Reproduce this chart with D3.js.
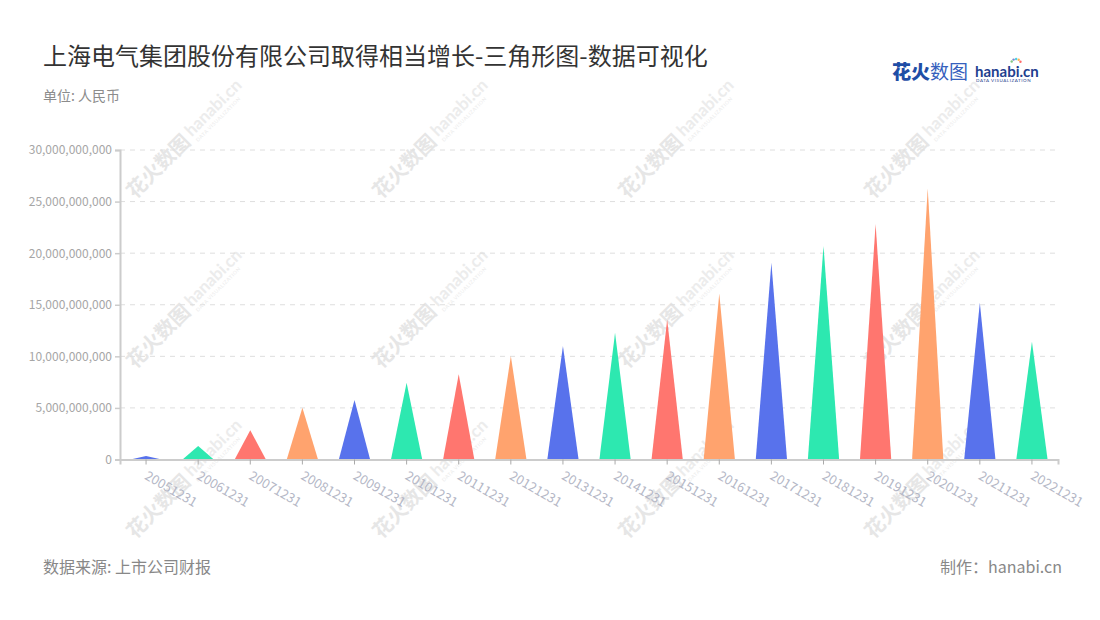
<!DOCTYPE html>
<html><head><meta charset="utf-8">
<script src="https://cdn.jsdelivr.net/npm/d3@7"></script>
<style>
html,body{margin:0;padding:0;background:#fff;}
svg{display:block;font-family:"Noto Sans CJK SC","Noto Sans",sans-serif;}
</style></head>
<body><svg id="c" width="1100" height="620"></svg>
<script>
const categories = ["20051231","20061231","20071231","20081231","20091231","20101231","20111231","20121231","20131231","20141231","20151231","20161231","20171231","20181231","20191231","20201231","20211231","20221231"];
const values = [0.34e9,1.31e9,2.83e9,5.02e9,5.77e9,7.44e9,8.26e9,10.03e9,11.0e9,12.29e9,13.58e9,16.1e9,19.07e9,20.69e9,22.82e9,26.28e9,15.19e9,11.41e9];
const yTicks = [0,5e9,10e9,15e9,20e9,25e9,30e9];
const palette = ["#5872ec","#2de8b0","#ff766f","#ffa36e"];

(function(){
const svg = d3.select("#c");
const pl = 120, pr = 1058, pt = 150, pb = 459.5;

// watermark
const wm = svg.append("g").attr("pointer-events","none");
for (let cx = 186; cx < 1150; cx += 246) {
  for (let cy = 140; cy < 650; cy += 170) {
    const g = wm.append("g").attr("transform", `translate(${cx},${cy}) rotate(-45)`);
    g.append("text").attr("x",-78).attr("y",6).attr("font-size",20).attr("font-weight",700).attr("fill","#e6e6e6").text("花火数图");
    g.append("text").attr("x",6).attr("y",2).attr("font-size",17).attr("font-weight",700).attr("fill","#ececec").attr("font-family","Lato, sans-serif").text("hanabi.cn");
    g.append("text").attr("x",7).attr("y",10).attr("font-size",5).attr("fill","#ececec").attr("font-family","Lato, sans-serif").attr("letter-spacing",0.6).text("DATA VISUALIZATION");
  }
}

const x = d3.scaleBand().domain(categories).range([pl, pr]).padding(0);
const y = d3.scaleLinear().domain([0, 30e9]).range([pb, pt]);

// grid
svg.append("g").selectAll("line").data(yTicks.slice(1)).join("line")
  .attr("x1", pl).attr("x2", pr)
  .attr("y1", d => y(d)).attr("y2", d => y(d))
  .attr("stroke", "#dedede").attr("stroke-dasharray", "5,5").attr("stroke-width", 1);

// y axis
const yAxis = svg.append("g").attr("transform", `translate(${pl},0)`)
  .call(d3.axisLeft(y).tickValues(yTicks).tickFormat(d3.format(",")).tickSizeOuter(0).tickSize(5).tickPadding(3));
yAxis.select(".domain").attr("stroke", "#cccccc").attr("stroke-width", 2);
yAxis.selectAll(".tick line").attr("stroke", "#cccccc").attr("stroke-width", 1.5);
yAxis.selectAll(".tick text").attr("fill", "#a6a6a6").attr("font-size", 12)
  .attr("font-family", '"Noto Sans CJK SC","Noto Sans",sans-serif');

// triangles
const bw = x.bandwidth() * 0.6;
svg.append("g").selectAll("path").data(categories).join("path")
  .attr("d", (c, i) => {
    const cx = x(c) + x.bandwidth() / 2;
    return `M${cx - bw/2},${y(0)} L${cx},${y(values[i])} L${cx + bw/2},${y(0)} Z`;
  })
  .attr("fill", (c, i) => palette[i % 4]);

// x axis
const xAxis = svg.append("g").attr("transform", `translate(0,${pb})`)
  .call(d3.axisBottom(x).tickSizeOuter(0).tickSize(5).tickPadding(6));
xAxis.select(".domain").attr("stroke", "#cccccc").attr("stroke-width", 2);
xAxis.selectAll(".tick line").attr("stroke", "#aaaaaa").attr("stroke-width", 1);
xAxis.selectAll(".tick text")
  .attr("fill", "#b4b7c6").attr("font-size", 13)
  .attr("font-family", '"Noto Sans CJK SC","Noto Sans",sans-serif')
  .attr("text-anchor", "start").attr("y", 0).attr("x", 0).attr("dy", "0.35em")
  .attr("transform", "translate(0,15) rotate(30)");

// title and texts
svg.append("text").attr("x", 43).attr("y", 65).attr("font-size", 24).attr("fill", "#333")
  .text("上海电气集团股份有限公司取得相当增长-三角形图-数据可视化");
svg.append("text").attr("x", 43).attr("y", 101).attr("font-size", 14).attr("fill", "#8c8c8c")
  .text("单位: 人民币");
svg.append("text").attr("x", 43).attr("y", 573).attr("font-size", 16).attr("fill", "#888")
  .text("数据来源: 上市公司财报");
svg.append("text").attr("x", 1062).attr("y", 573).attr("font-size", 16).attr("fill", "#888")
  .attr("text-anchor", "end").text("制作：hanabi.cn");

// logo
const logo = svg.append("g");
logo.append("text").attr("x", 892).attr("y", 79).attr("font-size", 19).attr("font-weight", 900).attr("fill", "#1f4ea6").text("花火");
logo.append("text").attr("x", 930).attr("y", 79).attr("font-size", 19).attr("font-weight", 400).attr("fill", "#3560bd").text("数图");
logo.append("text").attr("x", 975).attr("y", 77).attr("font-size", 15).attr("font-weight", 700).attr("fill", "#1f3f8f")
  .attr("font-family", "Lato, sans-serif").text("hanabi.cn");
logo.append("text").attr("x", 976).attr("y", 82).attr("font-size", 4.5).attr("fill", "#1f3f8f")
  .attr("font-family", "Lato, sans-serif").attr("letter-spacing", 0.55).text("DATA VISUALIZATION");
const dotColors = ["#ff6b6b","#ffb74d","#4dd0e1","#7986cb","#81c784"];
logo.append("g").selectAll("circle").data(dotColors).join("circle")
  .attr("cx", (d, i) => 1016 + Math.cos(-Math.PI * (0.15 + i * 0.17)) * 5)
  .attr("cy", (d, i) => 64 + Math.sin(-Math.PI * (0.15 + i * 0.17)) * 5)
  .attr("r", 1.2).attr("fill", d => d);
})();
</script>
</body></html>
